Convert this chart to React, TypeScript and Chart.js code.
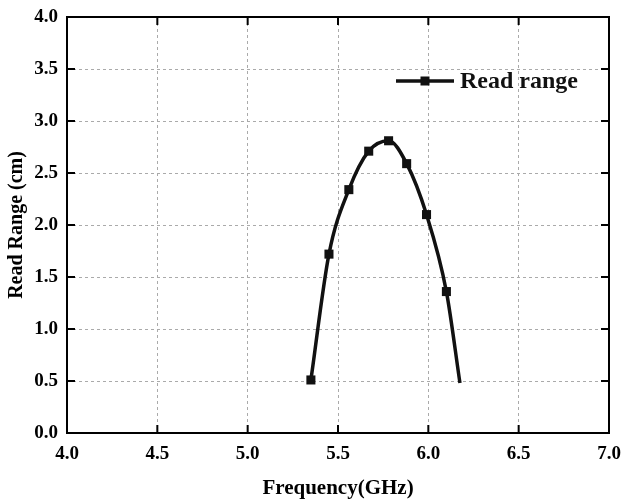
import React, { useEffect, useRef } from "react";
import { Chart, registerables } from "chart.js";

Chart.register(...registerables);

const frequencies = [5.35, 5.45, 5.56, 5.67, 5.78, 5.88, 5.99, 6.1, 6.175];
const readRanges = [0.51, 1.72, 2.34, 2.71, 2.81, 2.59, 2.1, 1.36, 0.48];
const markerShown = [true, true, true, true, true, true, true, true, false];
const seriesLabel = "Read range";
const xTitle = "Frequency(GHz)";
const yTitle = "Read Range (cm)";
const xMin = 4.0;
const xMax = 7.0;
const yMin = 0.0;
const yMax = 4.0;
const tickStep = 0.5;

const FONT = '"Liberation Serif", "Times New Roman", serif';

const framePlugin = {
  id: "frame",
  afterDatasetsDraw(chart: any) {
    const { ctx, chartArea } = chart;
    const { left, right, top, bottom } = chartArea;
    const xs = chart.scales.x;
    const ys = chart.scales.y;
    ctx.save();
    ctx.setLineDash([]);
    ctx.strokeStyle = "#000";
    ctx.lineWidth = 2;
    ctx.strokeRect(left, top, right - left, bottom - top);
    const tl = 8;
    ctx.beginPath();
    xs.ticks.forEach((t: any) => {
      const px = xs.getPixelForValue(t.value);
      ctx.moveTo(px, bottom);
      ctx.lineTo(px, bottom - tl);
      ctx.moveTo(px, top);
      ctx.lineTo(px, top + tl);
    });
    ys.ticks.forEach((t: any) => {
      const py = ys.getPixelForValue(t.value);
      ctx.moveTo(left, py);
      ctx.lineTo(left + tl, py);
      ctx.moveTo(right, py);
      ctx.lineTo(right - tl, py);
    });
    ctx.stroke();

    // legend
    const ds = chart.data.datasets[0];
    const lx0 = left + 329;
    const lx1 = left + 387;
    const ly = top + 64;
    ctx.strokeStyle = "#111";
    ctx.lineWidth = 3.5;
    ctx.beginPath();
    ctx.moveTo(lx0, ly);
    ctx.lineTo(lx1, ly);
    ctx.stroke();
    ctx.fillStyle = "#111";
    ctx.fillRect((lx0 + lx1) / 2 - 4.5, ly - 4.5, 9, 9);
    ctx.font = `bold 24px ${FONT}`;
    ctx.textBaseline = "middle";
    ctx.textAlign = "left";
    ctx.fillText(ds.label, lx1 + 6, ly + 1);
    ctx.restore();
  },
};

export default function App() {
  const canvasRef = useRef<HTMLCanvasElement | null>(null);

  useEffect(() => {
    document.body.style.margin = "0";
    const canvas = canvasRef.current;
    if (!canvas) return;
    const data = frequencies.map((f, i) => ({ x: f, y: readRanges[i] }));
    const chart = new Chart(canvas, {
      type: "line",
      data: {
        datasets: [
          {
            label: seriesLabel,
            data,
            borderColor: "#111",
            backgroundColor: "#111",
            borderWidth: 3.5,
            cubicInterpolationMode: "monotone",
            pointStyle: "rect",
            pointRadius: markerShown.map((m) => (m ? 6.4 : 0)),
            pointBorderWidth: 0,
            pointBackgroundColor: "#111",
            fill: false,
          },
        ],
      },
      options: {
        animation: false,
        responsive: true,
        maintainAspectRatio: false,
        layout: { padding: { top: 17, right: 13, left: 0, bottom: 0 } },
        plugins: {
          legend: { display: false },
          tooltip: { enabled: false },
        },
        scales: {
          x: {
            type: "linear",
            min: xMin,
            max: xMax,
            afterFit(scale: any) {
              scale.height = 67;
              scale.paddingLeft = 0;
              scale.paddingRight = 0;
            },
            ticks: {
              stepSize: tickStep,
              color: "#000",
              padding: 10,
              font: { family: FONT, size: 19, weight: "bold" },
              callback: (v: any) => Number(v).toFixed(1),
            },
            grid: {
              color: "#aaa",
              lineWidth: 1,
              drawTicks: false,
            },
            border: { display: false, dash: [3, 3] },
            title: {
              display: true,
              text: xTitle,
              color: "#000",
              font: { family: FONT, size: 21, weight: "bold" },
              padding: { top: 0, bottom: -1 },
            },
          },
          y: {
            type: "linear",
            min: yMin,
            max: yMax,
            afterFit(scale: any) {
              scale.width = 67;
              scale.paddingTop = 0;
              scale.paddingBottom = 0;
            },
            ticks: {
              stepSize: tickStep,
              color: "#000",
              padding: 9,
              font: { family: FONT, size: 19, weight: "bold" },
              callback: (v: any) => Number(v).toFixed(1),
            },
            grid: {
              color: "#aaa",
              lineWidth: 1,
              drawTicks: false,
            },
            border: { display: false, dash: [3, 3] },
            title: {
              display: true,
              text: yTitle,
              color: "#000",
              font: { family: FONT, size: 20, weight: "bold" },
              padding: { top: 5, bottom: 0 },
            },
          },
        },
      },
      plugins: [framePlugin],
    });
    return () => chart.destroy();
  }, []);

  return (
    <div style={{ position: "fixed", left: 0, top: 0, width: 622, height: 500, background: "#fff" }}>
      <canvas ref={canvasRef} />
    </div>
  );
}
